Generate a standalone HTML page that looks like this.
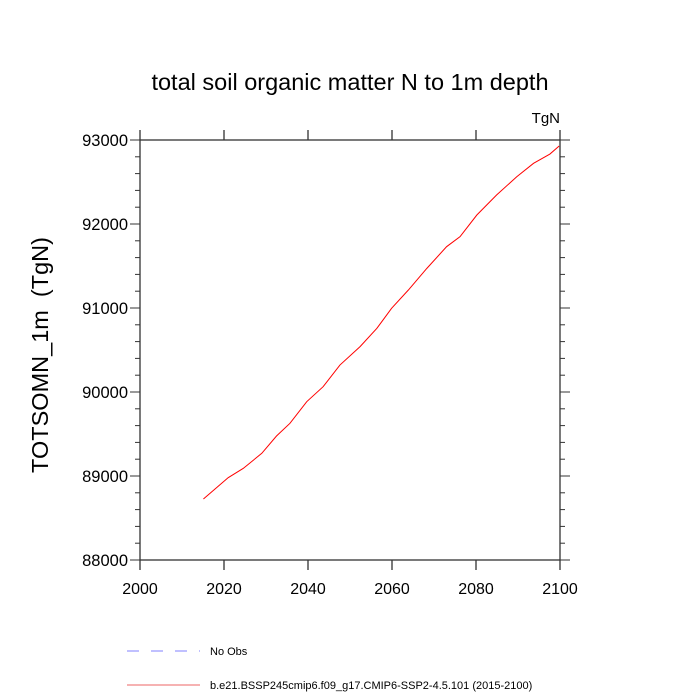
<!DOCTYPE html>
<html><head><meta charset="utf-8"><style>
body{margin:0;background:#fff;}
svg{display:block;font-family:"Liberation Sans",sans-serif;}
</style></head><body>
<svg id="chart" width="700" height="700" xmlns="http://www.w3.org/2000/svg">
<text x="350" y="90" font-size="23.5" text-anchor="middle">total soil organic matter N to 1m depth</text>
<text x="560" y="123" font-size="15" text-anchor="end">TgN</text>
<text transform="translate(48,355) rotate(-90)" font-size="23.5" text-anchor="middle" xml:space="preserve">TOTSOMN_1m  (TgN)</text>
<g id="axes"></g>
<g id="series"></g>
<g>
<line x1="127" y1="651" x2="200" y2="651" stroke="#8080ff" stroke-dasharray="12,12"/>
<text x="210" y="655" font-size="11">No Obs</text>
<line x1="127" y1="685" x2="200" y2="685" stroke="#ee6666"/>
<text x="210" y="689" font-size="11">b.e21.BSSP245cmip6.f09_g17.CMIP6-SSP2-4.5.101 (2015-2100)</text>
</g>
</svg>
<script>
const years=[2015.1,2021,2024.6,2029,2032.5,2035.7,2039.7,2043.6,2047.6,2052.4,2056.4,2059.9,2063.9,2068.3,2073,2076.2,2080.2,2084.9,2089.7,2093.7,2097.6,2099.8];
const values=[88726,88980,89091,89270,89476,89627,89885,90063,90321,90540,90758,90996,91214,91472,91730,91849,92107,92345,92563,92722,92833,92929];
const xTicks=[2000,2020,2040,2060,2080,2100];
const yTicks=[88000,89000,90000,91000,92000,93000];
const X0=140,X1=560,Y0=560,Y1=140;
const xs=v=>X0+(v-2000)/100*(X1-X0);
const ys=v=>Y0-(v-88000)/5000*(Y0-Y1);
const NS="http://www.w3.org/2000/svg";
const axes=document.getElementById('axes');
function mk(tag,attrs,parent){const e=document.createElementNS(NS,tag);for(const k in attrs)e.setAttribute(k,attrs[k]);parent.appendChild(e);return e;}
const frame=mk('rect',{x:X0,y:Y1,width:X1-X0,height:Y0-Y1,fill:'none',stroke:'#333','stroke-width':1.3},axes);


xTicks.forEach(t=>{const x=xs(t);
 const a=mk('line',{x1:x,y1:Y0,x2:x,y2:Y0+10,stroke:'#333','stroke-width':1.3},axes);
 
 
 const b=mk('line',{x1:x,y1:Y1,x2:x,y2:Y1-10,stroke:'#333','stroke-width':1.3},axes);
 
 
 const l=mk('text',{x:x,y:Y0+34,'font-size':16,'text-anchor':'middle'},axes);l.textContent=t;
 
 
});
for(let v=88000;v<=93000;v+=200){const y=ys(v);const major=(v%1000===0);const len=major?10:5;
 const a=mk('line',{x1:X0,y1:y,x2:X0-len,y2:y,stroke:'#333'},axes);
 
 
 const b=mk('line',{x1:X1,y1:y,x2:X1+len,y2:y,stroke:'#333'},axes);
 
 
}
yTicks.forEach(t=>{const l=mk('text',{x:X0-12,y:ys(t)+6,'font-size':16.5,'text-anchor':'end'},axes);l.textContent=t;
 
 
});
const p=mk('polyline',{points:years.map((y,i)=>xs(y)+','+ys(values[i])).join(' '),fill:'none',stroke:'#ff0000','stroke-width':1},document.getElementById('series'));


</script>
</body></html>
